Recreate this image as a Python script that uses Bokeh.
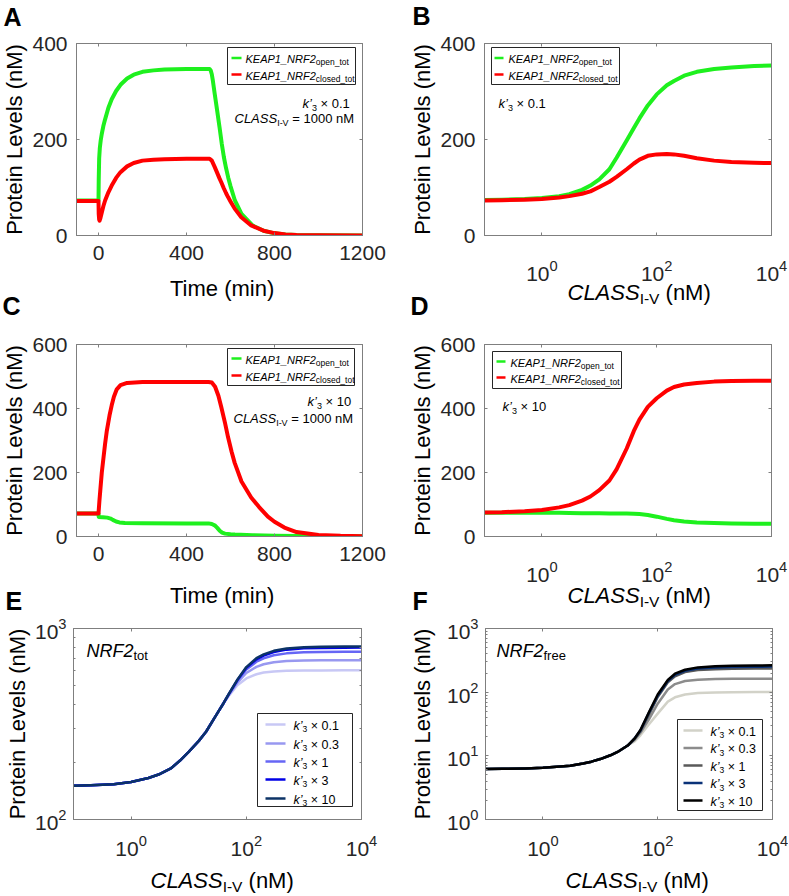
import math
from bokeh.plotting import figure
from bokeh.models import (Label, LinearAxis, LogAxis, FixedTicker, CustomJSTickFormatter,
                          Range1d, BoxAnnotation)
from bokeh.layouts import row, column
from bokeh.embed import file_html
from bokeh.resources import INLINE

# ---------------------------------------------------------------- data
# Panel A: time course, k'3 x 0.1, CLASS = 1000 nM
time_A_open = [-100, 0, 1, 3, 6, 10, 15, 22, 30, 45, 60, 80, 100, 130, 160, 200, 250, 300, 400,
               505, 510, 515, 520, 528, 540, 550, 560, 570, 580, 590, 600, 620, 650, 700, 750,
               800, 850, 900, 1000, 1200]
A_open = [73, 73, 115, 160, 182, 198, 212, 228, 242, 266, 284, 301, 314, 327, 335, 341, 344, 346,
          347, 347, 344, 336, 322, 296, 258, 226, 192, 163, 140, 120, 103, 73, 45, 21, 10,
          4.5, 2, 1, 0.3, 0]
time_A_closed = [-100, 0, 1, 3, 5, 8, 15, 22, 30, 45, 60, 80, 100, 130, 160, 200, 250, 300, 400,
                 505, 515, 528, 540, 550, 558, 570, 580, 589, 600, 619, 649, 694, 750, 800, 850,
                 900, 1000, 1200]
A_closed = [72, 72, 45, 33, 31, 35, 48, 61, 73, 90, 104, 120, 132, 144, 151, 156, 158, 159, 160,
            160, 156, 143, 130, 119, 111, 98, 88, 80, 71, 56, 38, 21, 10, 5, 2.3,
            1, 0.3, 0]

# Panel C: time course, k'3 x 10, CLASS = 1000 nM
time_C_open = [-100, 0, 1, 20, 40, 55, 65, 80, 95, 120, 200, 400, 500, 515, 528, 540, 551, 562,
               575, 600, 620, 700, 800, 1000, 1200]
C_open = [72, 72, 61, 60, 59, 56, 52, 47, 44, 42, 41.5, 41, 41, 39, 35, 27, 18, 12,
          9, 7, 6, 4, 2.5, 1, 0.5]
time_C_closed = [-100, 0, 4, 8, 15, 23, 30, 38, 50, 60, 70, 83, 100, 130, 200, 500, 515, 530,
                 545, 558, 575, 589, 605, 619, 650, 694, 730, 770, 800, 845, 900, 1000, 1100, 1200]
C_closed = [72, 72, 110, 143, 200, 248, 290, 331, 378, 410, 437, 460, 473, 480, 483, 483, 481, 468,
            440, 405, 355, 310, 265, 230, 172, 122, 92, 62, 46, 28, 14, 5, 2, 1]

# Panels B, D, E, F: dose response vs CLASS I-V (nM)
conc = [0.1, 0.2, 0.5, 1, 2, 3, 5, 7, 10, 15, 20, 30, 40, 50, 70, 100, 150, 200, 300, 500,
        1000, 2000, 5000, 10000]
B_open = [74, 74.5, 76, 78, 82, 86, 95, 104, 117, 138, 162, 198, 224, 244, 271, 294, 313, 322,
          333, 341, 347, 350, 353, 354]
B_closed = [73, 73.5, 74.5, 76, 79, 82, 87, 92, 101, 112, 122, 138, 150, 158, 166, 169, 170, 169,
            166, 161, 156, 153, 151.5, 151]
D_open = [74, 74, 74, 74, 74, 73.5, 73, 73, 72.5, 72, 72, 71.5, 71, 70, 67, 62, 55, 51,
          47, 44, 42, 41, 40, 40]
D_closed = [75, 76, 79, 83, 91, 98, 112, 125, 145, 175, 210, 275, 330, 365, 405, 432, 456, 467,
            475, 480, 484, 486, 487, 487]

k_factors = ["0.1", "0.3", "1", "3", "10"]
E_tot = [
    [150, 151, 153, 157, 165, 172, 186, 203, 226, 258, 288, 352, 405, 445, 505, 548, 576, 588,
     596, 600, 602, 603, 604, 604],
    [150, 151, 153, 157, 165, 172, 186, 203, 226, 258, 288, 352, 405, 450, 520, 585, 630, 650,
     666, 675, 679, 681, 682, 682],
    [150, 151, 153, 157, 165, 172, 186, 203, 226, 258, 288, 352, 405, 453, 532, 610, 670, 698,
     724, 741, 750, 753, 755, 755],
    [150, 151, 153, 157, 165, 172, 186, 203, 226, 258, 288, 352, 405, 455, 537, 622, 690, 722,
     752, 775, 787, 791, 794, 795],
    [150, 151, 153, 157, 165, 172, 186, 203, 226, 258, 288, 352, 405, 456, 540, 628, 700, 732,
     764, 786, 798, 802, 804, 805],
]
F_free = [
    [6.2, 6.25, 6.35, 6.5, 6.8, 7.0, 7.6, 8.1, 8.9, 10.2, 11.5, 14.5, 17, 21, 31, 46, 71, 83,
     92, 97, 99, 100, 101, 101],
    [6.2, 6.25, 6.35, 6.5, 6.8, 7.0, 7.6, 8.1, 8.9, 10.2, 11.5, 14.5, 18, 23, 37, 66, 110, 134,
     150, 157, 161, 162, 163, 163],
    [6.2, 6.25, 6.35, 6.5, 6.8, 7.0, 7.6, 8.1, 8.9, 10.2, 11.5, 14.5, 18.5, 24.5, 44, 84, 143, 178,
     207, 222, 230, 233, 235, 235],
    [6.2, 6.25, 6.35, 6.5, 6.8, 7.0, 7.6, 8.1, 8.9, 10.2, 11.5, 14.5, 19, 25, 47, 88, 150, 188,
     217, 235, 245, 249, 251, 252],
    [6.2, 6.25, 6.35, 6.5, 6.8, 7.0, 7.6, 8.1, 8.9, 10.2, 11.5, 14.5, 19, 25.5, 48, 92, 155, 195,
     225, 245, 255, 260, 263, 264],
]

time_ticks = [0, 400, 800, 1200]
conc_ticks = [1, 100, 10000]

# ---------------------------------------------------------------- style
FONT = "Liberation Sans"
FRAME = "#7f7f7f"
TICK = "#262626"
TXT = "#000000"
GREEN = "#1ef01e"
RED = "#ff0000"
E_COLORS = ["#c8c8f5", "#9898f0", "#6666f5", "#0000e6", "#0c3366"]
F_COLORS = ["#d2d2c8", "#8c8c8c", "#595959", "#0a3278", "#000000"]

# page geometry (canvas origin x0,y0, size w,h, frame edges) in page pixels
GEO = {
    "A": dict(x0=0, y0=0, w=400, h=290, fl=76, fr=362, ft=43, fb=235),
    "B": dict(x0=400, y0=0, w=388, h=290, fl=484, fr=771, ft=43, fb=235),
    "C": dict(x0=0, y0=290, w=400, h=300, fl=76, fr=362, ft=344, fb=536),
    "D": dict(x0=400, y0=290, w=388, h=300, fl=484, fr=771, ft=344, fb=536),
    "E": dict(x0=0, y0=590, w=400, h=280, fl=73, fr=361, ft=628, fb=819),
    "F": dict(x0=400, y0=590, w=388, h=280, fl=485, fr=772, ft=628, fb=819),
}
OV_H = 894
GO = dict(fl=0, fb=OV_H)   # overlay: frame == whole page
BASE_FIX = 0.27            # rendered alphabetic baseline sits this many em lower

W = {' ': 278, '(': 333, ')': 333, '-': 333, '.': 278, '=': 584, '_': 556, '\u00d7': 584,
     '\u2019': 222, 'A': 667, 'C': 722, 'E': 667, 'F': 611, 'I': 278, 'K': 667, 'L': 556,
     'M': 833, 'N': 722, 'P': 667, 'R': 722, 'S': 667, 'T': 611, 'V': 667, 'a': 556, 'c': 500,
     'd': 556, 'e': 556, 'f': 278, 'i': 222, 'k': 500, 'l': 222, 'm': 833, 'n': 556, 'o': 556,
     'p': 556, 'r': 333, 's': 500, 't': 278}
for dch in "0123456789":
    W[dch] = 556


def tw(s, size):
    return sum(W.get(ch, 556) for ch in s) * size / 1000.0


def add_text(p, g, X, Y, parts, align="left", color=TXT):
    total = sum(tw(t, s) for t, s, st, dy in parts)
    cur = X - total if align == "right" else (X - total / 2 if align == "center" else X)
    for t, s, st, dy in parts:
        lead = len(t) - len(t.lstrip(" "))
        p.add_layout(Label(x=cur + tw(" " * lead, s) - g["fl"],
                           y=g["fb"] - (Y + dy) + BASE_FIX * s,
                           x_units="screen", y_units="screen", text=t.strip(" "),
                           text_font=FONT, text_font_size=f"{s}px", text_font_style=st,
                           text_color=color, text_align="left", text_baseline="alphabetic"))
        cur += tw(t, s)


def add_box(p, g, X1, Y1, X2, Y2, fill, line=None):
    p.add_layout(BoxAnnotation(left=X1 - g["fl"], right=X2 - g["fl"],
                               top=g["fb"] - Y1, bottom=g["fb"] - Y2,
                               left_units="screen", right_units="screen",
                               top_units="screen", bottom_units="screen",
                               fill_color=fill, fill_alpha=1.0,
                               line_color=line, line_alpha=1.0, line_width=1))


def style_axis(ax, ticker, labels=True, standoff=9):
    ax.ticker = ticker
    ax.axis_line_color = FRAME
    ax.major_tick_line_color = FRAME
    ax.minor_tick_line_color = FRAME
    ax.major_tick_in = 3
    ax.major_tick_out = 0
    ax.minor_tick_in = 2
    ax.minor_tick_out = 0
    ax.major_label_text_font = FONT
    ax.major_label_text_font_size = "21px"
    ax.major_label_text_color = TICK
    ax.major_label_standoff = standoff
    ax.axis_label = None
    if not labels:
        ax.formatter = CustomJSTickFormatter(code="return ''")
        ax.major_label_standoff = 0
        ax.major_label_text_font_size = "1px"


def make_panel(key, xlog, ylog, xr, yr, xt, yt, ytm=None, xs=10, ys=9):
    g = GEO[key]
    p = figure(width=g["w"], height=g["h"],
               x_axis_type="log" if xlog else "linear",
               y_axis_type="log" if ylog else "linear",
               x_range=Range1d(*xr), y_range=Range1d(*yr),
               output_backend="svg", toolbar_location=None,
               min_border_left=g["fl"] - g["x0"], min_border_right=g["x0"] + g["w"] - g["fr"],
               min_border_top=g["ft"] - g["y0"], min_border_bottom=g["y0"] + g["h"] - g["fb"])
    p.grid.visible = False
    p.outline_line_color = FRAME
    p.outline_line_width = 1
    p.border_fill_color = None
    p.background_fill_color = "white"
    xtick = FixedTicker(ticks=xt, minor_ticks=[])
    ytick = FixedTicker(ticks=yt, minor_ticks=ytm or [])
    style_axis(p.xaxis[0], xtick, standoff=xs)
    style_axis(p.yaxis[0], ytick, standoff=ys)
    top = LogAxis() if xlog else LinearAxis()
    style_axis(top, xtick, labels=False)
    p.add_layout(top, "above")
    right = LogAxis() if ylog else LinearAxis()
    style_axis(right, ytick, labels=False)
    p.add_layout(right, "right")
    return p, g


# overlay figure spanning the whole page (placed first, panels drawn over it with
# transparent borders): carries the texts that lie outside the plot frames
ov = figure(width=789, height=OV_H, x_range=Range1d(0, 789), y_range=Range1d(0, OV_H),
            output_backend="svg", toolbar_location=None, min_border=0,
            x_axis_location=None, y_axis_location=None, margin=(0, 0, -OV_H, 0))
ov.grid.visible = False
ov.outline_line_color = None
ov.background_fill_color = None
ov.border_fill_color = None


def decorate(g, letter, lx, lby, ylab_x):
    add_text(ov, GO, lx, lby, [(letter, 25, "bold", 0)])
    ov.add_layout(Label(x=ylab_x - BASE_FIX * 22, y=OV_H - (g["fb"] + g["ft"]) / 2.0,
                        x_units="screen", y_units="screen", angle=math.pi / 2,
                        text="Protein Levels (nM)", text_font=FONT, text_font_size="22px",
                        text_color=TXT, text_align="center", text_baseline="alphabetic"))


def class_xlabel(X, Y):
    add_text(ov, GO, X, Y, [("CLASS", 22, "italic", 0), ("I-V", 15.5, "normal", 4.5),
                            (" (nM)", 22, "normal", 0)])


def keap_legend(p, g, box, sw, tx, ys, order):
    add_box(p, g, *box, "white", "#262626")
    for yc, (col, sub) in zip(ys, order):
        add_box(p, g, sw[0], yc - 1.25, sw[1], yc + 1.25, col)
        add_text(p, g, tx, yc + 4, [("KEAP1_NRF2", 11, "italic", 0), (sub, 8.5, "normal", 2.5)])


def k_legend(p, g, box, sw, tx, ys, colors):
    add_box(p, g, *box, "white", "#262626")
    for yc, col, kf in zip(ys, colors, k_factors):
        add_box(p, g, sw[0], yc - 1.25, sw[1], yc + 1.25, col)
        add_text(p, g, tx, yc + 4.5, [("k\u2019", 12.5, "italic", 0), ("3", 8.5, "normal", 2.5),
                                      (" \u00d7 " + kf, 12.5, "normal", 0)])


def kline(p, g, X, Y, kf):
    add_text(p, g, X, Y, [("k\u2019", 13, "italic", 0), ("3", 9, "normal", 3),
                          (" \u00d7 " + kf, 13, "normal", 0)])


def classline(p, g, X, Y):
    add_text(p, g, X, Y, [("CLASS", 13, "italic", 0), ("I-V", 9, "normal", 3),
                          (" = 1000 nM", 13, "normal", 0)])


LEG_ITEMS = [(GREEN, "open_tot"), (RED, "closed_tot")]

# ---------------------------------------------------------------- panel A
pA, gA = make_panel("A", False, False, (-100, 1200), (0, 400), time_ticks, [0, 200, 400])
pA.line(time_A_open, A_open, line_color=GREEN, line_width=4, line_join="round")
pA.line(time_A_closed, A_closed, line_color=RED, line_width=4, line_join="round")
decorate(gA, "A", 3, 23, 19.5)
add_text(ov, GO, 222, 294, [("Time (min)", 22, "normal", 0)], align="center")
keap_legend(pA, gA, (227, 47, 355, 84), (231, 241), 245, [57.5, 74], LEG_ITEMS)
kline(pA, gA, 302, 107, "0.1")
classline(pA, gA, 234, 122)

# ---------------------------------------------------------------- panel B
pB, gB = make_panel("B", True, False, (0.1, 10000), (0, 400), conc_ticks, [0, 200, 400], xs=24)
pB.line(conc, B_open, line_color=GREEN, line_width=4, line_join="round")
pB.line(conc, B_closed, line_color=RED, line_width=4, line_join="round")
decorate(gB, "B", 412, 22, 428)
class_xlabel(567, 298)
keap_legend(pB, gB, (491, 47, 619, 84), (494, 503), 508, [57.5, 74], LEG_ITEMS)
kline(pB, gB, 498, 107, "0.1")

# ---------------------------------------------------------------- panel C
pC, gC = make_panel("C", False, False, (-100, 1200), (0, 600), time_ticks, [0, 200, 400, 600])
pC.line(time_C_open, C_open, line_color=GREEN, line_width=4, line_join="round")
pC.line(time_C_closed, C_closed, line_color=RED, line_width=4, line_join="round")
decorate(gC, "C", 2, 312, 19.5)
add_text(ov, GO, 222, 601, [("Time (min)", 22, "normal", 0)], align="center")
keap_legend(pC, gC, (227, 348, 354, 385), (231, 241), 245, [358, 375], LEG_ITEMS)
kline(pC, gC, 307, 405, "10")
classline(pC, gC, 233, 422)

# ---------------------------------------------------------------- panel D
pD, gD = make_panel("D", True, False, (0.1, 10000), (0, 600), conc_ticks, [0, 200, 400, 600],
                    xs=24)
pD.line(conc, D_open, line_color=GREEN, line_width=4, line_join="round")
pD.line(conc, D_closed, line_color=RED, line_width=4, line_join="round")
decorate(gD, "D", 410, 312, 428)
class_xlabel(567, 601)
keap_legend(pD, gD, (492, 351, 621, 388), (496, 505), 510, [361, 377], LEG_ITEMS)
kline(pD, gD, 502, 410, "10")

# ---------------------------------------------------------------- panel E
E_minor = [200, 300, 400, 500, 600, 700, 800, 900]
pE, gE = make_panel("E", True, True, (0.1, 10000), (100, 1000), conc_ticks, [100, 1000],
                    ytm=E_minor, xs=15, ys=7)
for ser, col in zip(E_tot, E_COLORS):
    pE.line(conc, ser, line_color=col, line_width=2.5, line_join="round")
decorate(gE, "E", 5, 607, 23)
class_xlabel(150, 886)
add_text(pE, gE, 86, 655, [("NRF2", 18, "italic", 0), ("tot", 13, "normal", 4)])
k_legend(pE, gE, (257, 713, 352, 806), (265, 285), 293, [724, 743, 761, 779, 798], E_COLORS)

# ---------------------------------------------------------------- panel F
F_minor = [m * d for d in (1, 10, 100) for m in range(2, 10)]
pF, gF = make_panel("F", True, True, (0.1, 10000), (1, 1000), conc_ticks, [1, 10, 100, 1000],
                    ytm=F_minor, xs=15, ys=7)
for ser, col in zip(F_free, F_COLORS):
    pF.line(conc, ser, line_color=col, line_width=2.5, line_join="round")
decorate(gF, "F", 412, 607, 428)
class_xlabel(565, 886)
add_text(pF, gF, 496, 655, [("NRF2", 18, "italic", 0), ("free", 13, "normal", 4)])
k_legend(pF, gF, (677, 719, 762, 810), (683, 702), 710, [730, 747.5, 765, 782.5, 800], F_COLORS)

# ---------------------------------------------------------------- layout
r1 = row(pA, pB)
r2 = row(pC, pD)
r3 = row(pE, pF)
root = column(ov, r1, r2, r3)

open("out.html", "w").write(file_html(root, INLINE))
